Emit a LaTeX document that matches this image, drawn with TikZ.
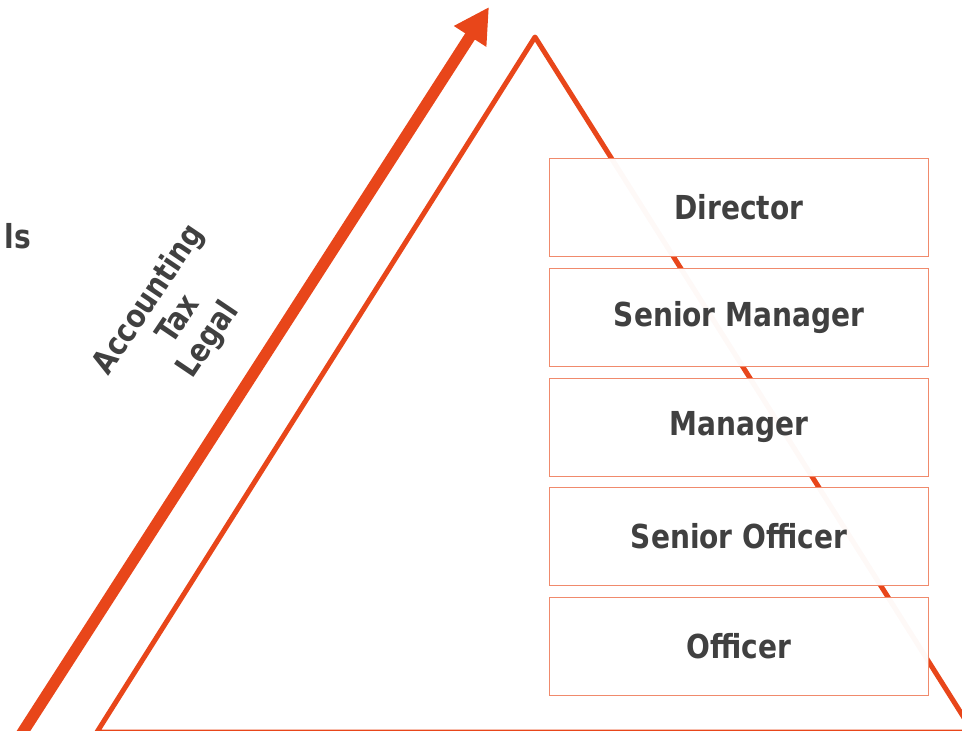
\documentclass[tikz,border=0pt]{standalone}
\usepackage{fontspec}
\setmainfont{DejaVu Sans Condensed}
\usetikzlibrary{arrows.meta}
\definecolor{org}{HTML}{E8461A}
\definecolor{orgl}{HTML}{F08A6C}
\definecolor{txt}{HTML}{404040}
\newcommand\narrowtxt[1]{\scalebox{0.945}[1]{#1}}
\tikzset{
  lvl/.style={draw=orgl, line width=1pt, fill=white, fill opacity=0.97, text opacity=1,
    minimum width=379pt, minimum height=98pt, inner sep=0pt, anchor=north west,
    text=txt, font=\fontsize{33}{36}\selectfont\bfseries},
  lbl/.style={text=txt, font=\fontsize{33}{36}\selectfont\bfseries, inner sep=0pt}
}
\begin{document}
\begin{tikzpicture}[x=1pt,y=-1pt]
\useasboundingbox (0,0) rectangle (962,731);
\begin{scope}
\clip (0,0) rectangle (962,731);
% triangle
\draw[org, line width=5pt, line join=round] (97,732) -- (535,37) -- (973,732) -- cycle;
% arrow
\coordinate (as) at (17.5,740.3);
\coordinate (at) at (489,7);
\draw[org, line width=11.5pt, -{Triangle[length=35pt,width=36pt]}] (as) -- (at);
\end{scope}
% levels
\node[lvl] (director) at (549,158) {\narrowtxt{Director}};
\node[lvl] (srmgr) at (549,268) {\narrowtxt{Senior Manager}};
\node[lvl] (mgr) at (549,377.5) {\narrowtxt{Manager}};
\node[lvl] (srofc) at (549,487) {\narrowtxt{Senior Officer}};
\node[lvl] (ofc) at (549,597) {\narrowtxt{Officer}};
% left texts
\node[lbl, anchor=base east] (ls) at (31,248) {\narrowtxt{ls}};
\node[lbl, rotate=56, align=center, font=\fontsize{32}{36}\selectfont\bfseries] (atl) at (179,320) {\narrowtxt{Accounting}\\\narrowtxt{Tax}\\\narrowtxt{Legal}};
\end{tikzpicture}
\end{document}
